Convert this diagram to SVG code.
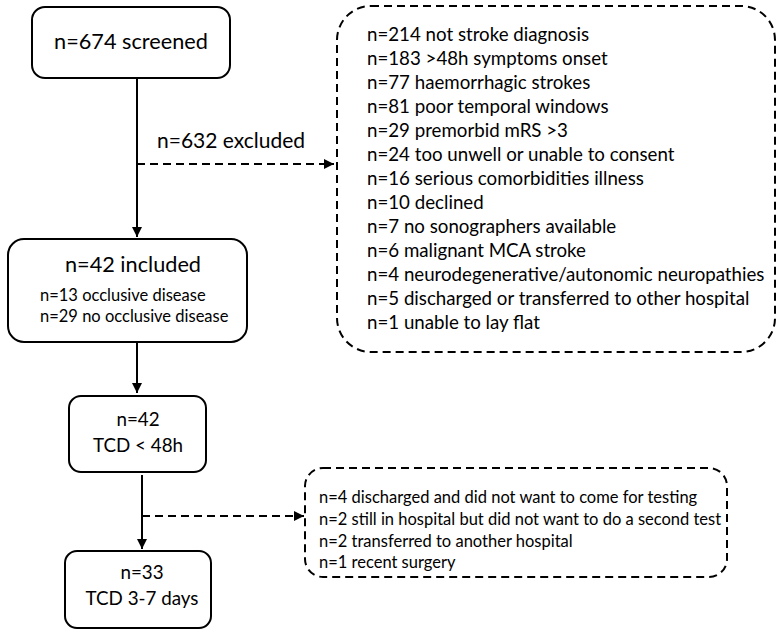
<svg xmlns="http://www.w3.org/2000/svg" width="780" height="637" viewBox="0 0 780 637">
<defs>
<style>
.box{fill:#fff;stroke:#000;stroke-width:2}
.dbox{fill:#fff;stroke:#000;stroke-width:2;stroke-dasharray:8,5}
.ln{stroke:#000;stroke-width:2;fill:none}
.dl{stroke:#000;stroke-width:2;fill:none;stroke-dasharray:8,5}
text{font-family:Lato,"Liberation Sans",sans-serif;fill:#000}
.big{font-size:21.7px}
.lbl{font-size:21px}
.mid{font-size:18.8px}
.lst{font-size:18.7px}
.sm{font-size:16.5px}
</style>
<marker id="ah" viewBox="0 0 10 10" refX="10" refY="5" markerWidth="5" markerHeight="5" orient="auto" markerUnits="strokeWidth">
<path d="M0,0 L10,5 L0,10 z" fill="#000"/>
</marker>
</defs>
<g id="connectors">
<line class="ln" x1="137" y1="78" x2="137" y2="237" marker-end="url(#ah)"/>
<line class="dl" x1="137" y1="164" x2="334" y2="164" marker-end="url(#ah)"/>
<text class="lbl" x="157" y="148">n=632 excluded</text>
<line class="ln" x1="137" y1="342" x2="137" y2="393" marker-end="url(#ah)"/>
<line class="ln" x1="142" y1="475" x2="142" y2="549" marker-end="url(#ah)"/>
<line class="dl" x1="142" y1="516" x2="304" y2="516" marker-end="url(#ah)"/>
</g>
<g id="screened">
<rect class="box" x="32" y="7" width="198" height="71" rx="13"/>
<text class="big" x="131" y="49" text-anchor="middle">n=674 screened</text>
</g>
<g id="excluded-reasons">
<rect class="dbox" x="337" y="6" width="438" height="346" rx="34"/>
<text class="lst" x="367">
<tspan x="367" y="41">n=214 not stroke diagnosis</tspan>
<tspan x="367" y="65">n=183 &gt;48h symptoms onset</tspan>
<tspan x="367" y="89">n=77 haemorrhagic strokes</tspan>
<tspan x="367" y="113">n=81 poor temporal windows</tspan>
<tspan x="367" y="137">n=29 premorbid mRS &gt;3</tspan>
<tspan x="367" y="161">n=24 too unwell or unable to consent</tspan>
<tspan x="367" y="185">n=16 serious comorbidities illness</tspan>
<tspan x="367" y="209">n=10 declined</tspan>
<tspan x="367" y="233">n=7 no sonographers available</tspan>
<tspan x="367" y="257">n=6 malignant MCA stroke</tspan>
<tspan x="367" y="281">n=4 neurodegenerative/autonomic neuropathies</tspan>
<tspan x="367" y="305">n=5 discharged or transferred to other hospital</tspan>
<tspan x="367" y="329">n=1 unable to lay flat</tspan>
</text>
</g>
<g id="included">
<rect class="box" x="8" y="239" width="239" height="103" rx="16"/>
<text class="big" x="133" y="272" text-anchor="middle">n=42 included</text>
<text class="sm" x="40" y="301">n=13 occlusive disease</text>
<text class="sm" x="40" y="322">n=29 no occlusive disease</text>
</g>
<g id="tcd48">
<rect class="box" x="69" y="396" width="137" height="76" rx="12"/>
<text class="mid" x="138" y="426" text-anchor="middle">n=42</text>
<text class="mid" x="138" y="452" text-anchor="middle">TCD &lt; 48h</text>
</g>
<g id="lost-reasons">
<rect class="dbox" x="305" y="468" width="422" height="109" rx="18"/>
<text class="sm">
<tspan x="319" y="503">n=4 discharged and did not want to come for testing</tspan>
<tspan x="319" y="525">n=2 still in hospital but did not want to do a second test</tspan>
<tspan x="319" y="547">n=2 transferred to another hospital</tspan>
<tspan x="319" y="568">n=1 recent surgery</tspan>
</text>
</g>
<g id="tcd37">
<rect class="box" x="65" y="551" width="146" height="77" rx="12"/>
<text class="mid" x="142" y="579" text-anchor="middle">n=33</text>
<text class="mid" x="142" y="605" text-anchor="middle">TCD 3-7 days</text>
</g>
</svg>
